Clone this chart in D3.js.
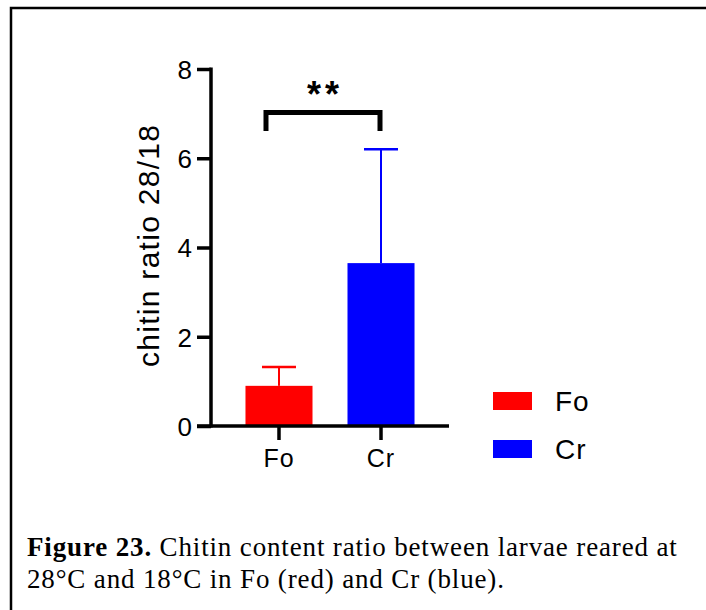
<!DOCTYPE html>
<html><head><meta charset="utf-8">
<script src="https://cdn.jsdelivr.net/npm/d3@7"></script>
<style>body{margin:0;background:#fff}svg{display:block}</style>
</head><body>
<svg id="c" width="706" height="610"></svg>
<script>
const categories = ["Fo", "Cr"];
const means = [0.9, 3.65];
const errors = [0.42, 2.55];
const colors = ["#ff0000", "#0000ff"];
const yTicks = [0, 2, 4, 6, 8];
const yLabel = "chitin ratio 28/18";
const sigLabel = "**";

const svg = d3.select("#c");
// frame
svg.append("path").attr("d","M11,610 V8 H706").attr("fill","none").attr("stroke","#000").attr("stroke-width",2.5);

const y = d3.scaleLinear().domain([0,8]).range([426,69]);
const x = d3.scaleBand().domain(categories).range([211,449]).paddingInner(0.343).paddingOuter(0.338);
const sans = "Liberation Sans, Arial, sans-serif";

// bars
const g = svg.append("g");
categories.forEach((c,i)=>{
  g.append("rect").attr("x",x(c)).attr("width",x.bandwidth()).attr("y",y(means[i])).attr("height",y(0)-y(means[i])).attr("fill",colors[i]);
  const cx = x(c)+x.bandwidth()/2;
  g.append("line").attr("x1",cx).attr("x2",cx).attr("y1",y(means[i])).attr("y2",y(means[i]+errors[i])).attr("stroke",colors[i]).attr("stroke-width",2);
  g.append("line").attr("x1",cx-17).attr("x2",cx+17).attr("y1",y(means[i]+errors[i])).attr("y2",y(means[i]+errors[i])).attr("stroke",colors[i]).attr("stroke-width",2.5);
});

// y axis
const ya = svg.append("g").attr("transform","translate(211,0)")
  .call(d3.axisLeft(y).tickValues(yTicks).tickSize(14).tickPadding(5).tickSizeOuter(0));
ya.select(".domain").attr("stroke-width",3.5).attr("d","M0,"+(y(0)+1.5)+"V"+(y(8)-1.5));
ya.selectAll(".tick line").attr("stroke-width",3.5);
ya.selectAll(".tick text").attr("font-family",sans).attr("font-size",26).attr("fill","#000").attr("dy","0.36em");

// x axis
const xa = svg.append("g").attr("transform","translate(0,426)")
  .call(d3.axisBottom(x).tickSize(14).tickPadding(9).tickSizeOuter(0));
xa.select(".domain").attr("stroke-width",3.5).attr("d","M197,0H449");
xa.selectAll(".tick line").attr("stroke-width",3.5);
xa.selectAll(".tick text").attr("font-family",sans).attr("font-size",25).attr("fill","#000").attr("letter-spacing","1px");

// y label
svg.append("text").attr("transform","translate(148,246) rotate(-90)").attr("text-anchor","middle").attr("dy","0.35em")
  .attr("font-family",sans).attr("font-size",30).attr("textLength",242).attr("lengthAdjust","spacing").text(yLabel);

// significance bracket
const xFo = x("Fo")+x.bandwidth()/2, xCr = x("Cr")+x.bandwidth()/2;
const x1 = xFo-13, x2 = xCr-1;
svg.append("path").attr("d",`M${x1},${131}V${112.5}H${x2}V${131}`).attr("fill","none").attr("stroke","#000").attr("stroke-width",5);
svg.append("text").attr("x",(x1+x2)/2+2).attr("y",107).attr("text-anchor","middle").attr("font-family",sans).attr("font-weight","bold").attr("font-size",36).attr("letter-spacing","4px").text(sigLabel);

// legend
categories.forEach((c,i)=>{
  const ly = 392 + i*48;
  svg.append("rect").attr("x",493).attr("y",ly).attr("width",39).attr("height",18).attr("fill",colors[i]);
  svg.append("text").attr("x",555).attr("y",ly+9).attr("dy","0.36em").attr("font-family",sans).attr("font-size",28).attr("letter-spacing","1px").text(c);
});

// caption
const serif = "Liberation Serif, Times New Roman, serif";
const cap = svg.append("text").attr("font-family",serif).attr("font-size",27).attr("letter-spacing","0.85px");
const l1 = cap.append("tspan").attr("x",27).attr("y",556);
l1.append("tspan").attr("font-weight","bold").text("Figure 23.");
l1.append("tspan").text(" Chitin content ratio between larvae reared at");
cap.append("tspan").attr("x",27).attr("y",588).text("28°C and 18°C in Fo (red) and Cr (blue).");
</script>
</body></html>
